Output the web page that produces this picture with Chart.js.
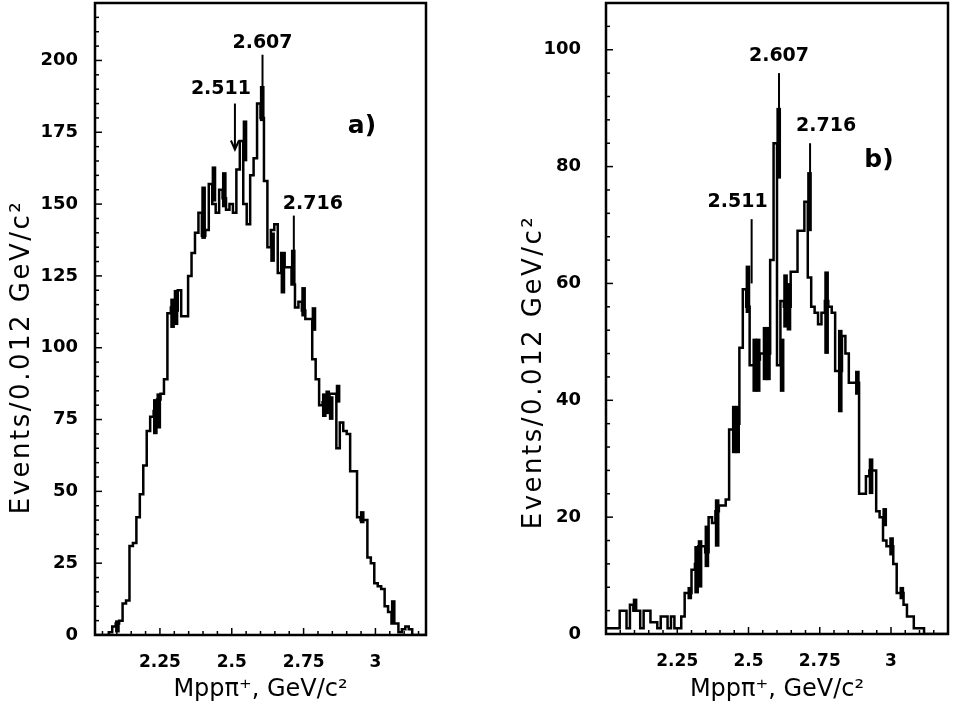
<!DOCTYPE html>
<html>
<head>
<meta charset="utf-8">
<script src="https://cdn.jsdelivr.net/npm/chart.js@4.4.1/dist/chart.umd.min.js"></script>
<style>
  html, body { margin: 0; padding: 0; background: #fff; }
  .panel { position: absolute; top: 0; width: 477px; height: 705px; }
  #panelA { left: 0; }
  #panelB { left: 477px; }
</style>
</head>
<body>
<div class="panel" id="panelA"><canvas id="histA"></canvas></div>
<div class="panel" id="panelB"><canvas id="histB"></canvas></div>
<script>
// bin width 0.012 GeV/c^2
const binWidth = 0.012;

// panel a)
const startA = 2.024;
const countsA = [
  0, 0, 0, 0, 0, 1, 3, 4, 5, 11,
  12, 31, 32, 41, 49, 59, 71, 76, 78, 82,
  84, 89, 112, 114, 113, 120, 111, 111, 125, 133,
  140, 147, 139, 141, 157, 150, 147, 155, 152, 148,
  150, 147, 162, 172, 150, 143, 160, 166, 185, 180,
  158, 135, 141, 143, 126, 133, 128, 128, 122, 114,
  116, 113, 110, 110, 96, 89, 80, 81, 79, 84,
  84, 65, 74, 71, 70, 57, 57, 41, 40, 40,
  27, 25, 18, 17, 16, 10, 8, 4, 4, 1,
  2, 3, 2, 0, 0, 0
];
// bins drawn with error bars, and their half-lengths
const errBinsA = [6, 17, 18, 22, 23, 31, 34, 37, 43, 48, 51, 54, 57, 60, 63, 66, 67, 68, 70, 77, 86];
const errHalfA = [2, 6, 6, 5, 6, 9, 6, 6, 7, 6, 5, 7, 6, 5, 4, 4, 4, 4, 3, 2, 4];
const yTicksA = [0, 25, 50, 75, 100, 125, 150, 175, 200];

// panel b)
const startB = 2.0;
const countsB = [
  1, 1, 1, 1, 1, 4, 4, 1, 5, 4,
  4, 1, 4, 4, 2, 2, 1, 3, 3, 1,
  3, 1, 1, 3, 7, 7, 11, 12, 15, 15,
  14, 20, 19, 21, 22, 22, 23, 35, 35, 36,
  49, 59, 56, 46, 46, 47, 48, 48, 48, 64,
  84, 46, 57, 56, 56, 62, 62, 69, 69, 74,
  61, 56, 55, 53, 55, 57, 56, 55, 45, 45,
  51, 48, 43, 43, 43, 24, 24, 27, 28, 28,
  21, 20, 16, 15, 15, 12, 7, 7, 5, 3,
  3, 1, 1, 1, 0, 0, 0, 0, 0, 0
];
const errBinsB = [8, 24, 26, 27, 29, 32, 37, 38, 41, 43, 44, 46, 47, 50, 51, 52, 53, 59, 64, 68, 73, 77, 81, 83, 86];
const errHalfB = [1, 1, 4, 4, 3.5, 4, 4, 4, 4, 4.5, 4.5, 4.5, 4.5, 6, 4.5, 4.5, 4, 5, 7, 7, 2, 3, 1.5, 1.5, 1];
const yTicksB = [0, 20, 40, 60, 80, 100];

const massTicks = [2.25, 2.5, 2.75, 3];

// marked peaks
const peakMass = [2.511, 2.607, 2.716];
const peakNames = ['2.511', '2.607', '2.716'];
// annotation heights in events: text, line top, line bottom
const textLevelA = [190, 206, 150];
const lineTopA = [185, 202, 146];
const lineEndA = [169, 188, 132];
const textLevelB = [74, 99, 87];
const lineTopB = [71, 96, 84];
const lineEndB = [60, 84, 74];

const FONT = "'DejaVu Sans', Verdana, sans-serif";

function histPoints(start, counts) {
  const pts = counts.map((c, i) => ({ x: +(start + i * binWidth).toFixed(3), y: c }));
  pts.push({ x: +(start + counts.length * binWidth).toFixed(3), y: counts[counts.length - 1] });
  return pts;
}

function errPoints(start, counts, bins, half) {
  return bins.map((k, i) => ({
    x: +(start + (k + 0.5) * binWidth).toFixed(4),
    y: [counts[k] - half[i], counts[k] + half[i]]
  }));
}

// frame, inward tick marks, y title
const framePlugin = {
  id: 'frame',
  afterDatasetsDraw(chart, args, opts) {
    const { ctx, chartArea: a, scales } = chart;
    ctx.save();
    ctx.strokeStyle = '#000';
    ctx.lineWidth = 1.5;
    for (let v = 0; v <= scales.y.max; v += opts.yMinor) {
      const py = scales.y.getPixelForValue(v);
      const major = Math.abs(v % opts.yMajor) < 1e-6;
      ctx.beginPath();
      ctx.moveTo(a.left, py);
      ctx.lineTo(a.left + (major ? 7 : 4), py);
      ctx.stroke();
    }
    const x0 = Math.ceil(scales.x.min / 0.05) * 0.05;
    for (let v = x0; v <= scales.x.max + 1e-9; v += 0.05) {
      const px = scales.x.getPixelForValue(v);
      const major = massTicks.some(t => Math.abs(t - v) < 1e-6);
      ctx.beginPath();
      ctx.moveTo(px, a.bottom);
      ctx.lineTo(px, a.bottom - (major ? 7 : 4));
      ctx.stroke();
    }
    ctx.lineWidth = 2.5;
    ctx.strokeRect(a.left, a.top, a.right - a.left, a.bottom - a.top);

    ctx.fillStyle = '#000';
    ctx.font = opts.titleFont;
    ctx.letterSpacing = '2.5px';
    ctx.textAlign = 'center';
    ctx.textBaseline = 'middle';
    ctx.translate(opts.titleX, opts.titleY);
    ctx.rotate(-Math.PI / 2);
    ctx.fillText('Events/0.012 GeV/c\u00B2', 0, 0);
    ctx.restore();
  }
};

// peak labels and markers, panel tag
const peakPlugin = {
  id: 'peaks',
  afterDatasetsDraw(chart, args, opts) {
    const { ctx, scales } = chart;
    ctx.save();
    ctx.fillStyle = '#000';
    ctx.strokeStyle = '#000';
    ctx.lineWidth = 2;
    ctx.font = 'bold 19px ' + FONT;
    ctx.textAlign = 'center';
    ctx.textBaseline = 'middle';
    peakMass.forEach((m, i) => {
      const px = scales.x.getPixelForValue(m);
      const top = scales.y.getPixelForValue(opts.lineTop[i]);
      const end = scales.y.getPixelForValue(opts.lineEnd[i]);
      ctx.fillText(peakNames[i], px + opts.textShift[i], scales.y.getPixelForValue(opts.textLevel[i]));
      ctx.beginPath();
      ctx.moveTo(px, top);
      ctx.lineTo(px, end);
      ctx.stroke();
      if (opts.arrow[i]) {
        ctx.beginPath();
        ctx.moveTo(px - 4, end - 9);
        ctx.lineTo(px, end);
        ctx.lineTo(px + 4, end - 9);
        ctx.stroke();
      }
    });
    ctx.font = 'bold 25px ' + FONT;
    ctx.fillText(opts.tag, opts.tagX, opts.tagY);
    ctx.restore();
  }
};

function makeChart(id, start, counts, errBins, errHalf, yMax, yTicks, cfg) {
  const nBins = counts.length;
  return new Chart(document.getElementById(id), {
    type: 'line',
    data: {
      datasets: [{
        type: 'line',
        data: histPoints(start, counts),
        stepped: 'after',
        borderColor: '#000',
        borderWidth: 2.5,
        pointRadius: 0,
        fill: false
      }, {
        type: 'bar',
        data: errPoints(start, counts, errBins, errHalf),
        backgroundColor: '#000',
        borderWidth: 0,
        barThickness: 4
      }]
    },
    options: {
      responsive: true,
      maintainAspectRatio: false,
      animation: false,
      layout: { padding: { top: 3, right: cfg.padRight, left: 0, bottom: 0 } },
      plugins: {
        legend: { display: false },
        tooltip: { enabled: false },
        frame: cfg.frame,
        peaks: cfg.peaks
      },
      scales: {
        x: {
          type: 'linear',
          offset: false,
          min: start,
          max: +(start + nBins * binWidth).toFixed(3),
          afterBuildTicks: s => { s.ticks = massTicks.map(v => ({ value: v })); },
          afterFit: s => { s.height = cfg.xHeight; s.paddingLeft = 0; s.paddingRight = 0; },
          grid: { display: false },
          border: { display: false },
          ticks: {
            color: '#000',
            font: { family: FONT, size: 17, weight: 'bold' },
            padding: 9,
            maxRotation: 0,
            callback: v => String(v)
          },
          title: {
            display: true,
            text: 'Mpp\u03C0\u207A, GeV/c\u00B2',
            color: '#000',
            font: { family: FONT, size: 24 },
            padding: { top: 0, bottom: 1 }
          }
        },
        y: {
          min: 0,
          max: yMax,
          afterBuildTicks: s => { s.ticks = yTicks.map(v => ({ value: v })); },
          afterFit: s => { s.width = cfg.yWidth; s.paddingTop = 0; s.paddingBottom = 0; },
          grid: { display: false },
          border: { display: false },
          ticks: {
            color: '#000',
            font: { family: FONT, size: 18, weight: 'bold' },
            padding: cfg.yPad
          }
        }
      }
    },
    plugins: [framePlugin, peakPlugin]
  });
}

makeChart('histA', startA, countsA, errBinsA, errHalfA, 220, yTicksA, {
  padRight: 51, xHeight: 70, yWidth: 95, yPad: 9,
  frame: { yMinor: 5, yMajor: 25, titleX: 22, titleY: 357, titleFont: '26px ' + FONT },
  peaks: {
    textLevel: textLevelA, lineTop: lineTopA, lineEnd: lineEndA,
    textShift: [-14, 0, 19], arrow: [true, false, false],
    tag: 'a)', tagX: 362, tagY: 126
  }
});

makeChart('histB', startB, countsB, errBinsB, errHalfB, 108, yTicksB, {
  padRight: 6, xHeight: 71, yWidth: 129, yPad: 17,
  frame: { yMinor: 4, yMajor: 20, titleX: 57, titleY: 372, titleFont: '26px ' + FONT },
  peaks: {
    textLevel: textLevelB, lineTop: lineTopB, lineEnd: lineEndB,
    textShift: [-14, 0, 16], arrow: [false, false, false],
    tag: 'b)', tagX: 402, tagY: 160
  }
});
</script>
</body>
</html>
